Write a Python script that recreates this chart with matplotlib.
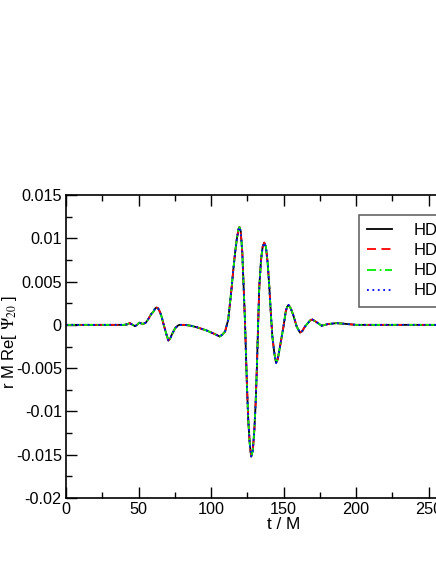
import matplotlib
matplotlib.use("Agg")
import matplotlib.pyplot as plt
from matplotlib.ticker import MultipleLocator, FixedLocator, FixedFormatter

plt.rcParams['font.family'] = ['Liberation Sans', 'DejaVu Sans']
plt.rcParams['mathtext.fontset'] = 'stix'

# time samples (t / M)
t = [0, 40, 42, 44, 46, 47.6, 49, 50.5, 53, 55, 56.5, 57.9, 59, 60.2, 61.5, 62.5,
     63.5, 64.8, 66, 67.1, 69, 70.6, 71.8, 72.9, 75.2, 77, 78.2, 82, 86, 90.1, 97,
     102.8, 106, 108, 109.7, 111.9, 113.1, 114.3, 115.4, 116.6, 117.7, 118.9,
     119.6, 120.5, 121.6, 122.5, 123.4, 124.1, 124.8, 125.7, 126.7, 127.7, 128.8,
     129.9, 130.8, 131.6, 132.5, 133.3, 134.5, 135.6, 136.7, 137.9, 139.1, 140.2,
     141.4, 142.3, 143.7, 144.9, 146, 147.6, 149.9, 151.5, 152.5, 153.5, 155,
     156.8, 159.1, 161.4, 163, 164.8, 168.3, 169.9, 172.9, 176.3, 180.9, 186.7,
     193.6, 200, 300]

# r M Re[Psi_20] for the four runs (curves overlap)
hd_a = [0, 0, 0.00005, 0.0002, 0.0000, -0.00015, 0.0000, 0.00025, 0.0001, 0.00025,
        0.0006, 0.0010, 0.0013, 0.0015, 0.0019, 0.0020, 0.0019, 0.0015, 0.0009,
        0.0002, -0.00096, -0.0018, -0.0016, -0.00116, -0.0004, -0.0001, 0.0, 0.0,
        -0.0001, -0.00027, -0.00065, -0.00108, -0.00135, -0.0011, -0.00077, 0.0006,
        0.0025, 0.0044, 0.0064, 0.0083, 0.0098, 0.0110, 0.0113, 0.0108, 0.0083,
        0.0044, 0.0006, -0.0033, -0.0071, -0.0110, -0.0137, -0.0152, -0.0146,
        -0.0121, -0.0090, -0.0052, 0.0, 0.0044, 0.0075, 0.0090, 0.0095, 0.0090,
        0.0071, 0.0044, 0.0010, -0.0013, -0.0033, -0.0044, -0.0040, -0.0025,
        -0.0003, 0.0015, 0.0021, 0.0023, 0.0019, 0.0011, -0.0002, -0.0009, -0.0007,
        -0.0002, 0.0005, 0.00062, 0.0003, -0.0001, 0.0001, 0.0002, 0.0001, 0.0, 0.0]
hd_b = list(hd_a)
hd_c = list(hd_a)
hd_d = list(hd_a)

labels = ["HD1", "HD2", "HD3", "HD4"]
x_ticks = [0, 50, 100, 150, 200, 250, 300]
y_ticks = [-0.02, -0.015, -0.01, -0.005, 0, 0.005, 0.01, 0.015]
y_tick_labels = ["-0.02", "-0.015", "-0.01", "-0.005", "0", "0.005", "0.01", "0.015"]

W, H = 436, 564
fig = plt.figure(figsize=(W / 100, H / 100), dpi=100)
left, right, top, bottom = 66, 66 + 435, 195, 498
ax = fig.add_axes([left / W, (H - bottom) / H, (right - left) / W, (bottom - top) / H])

ax.plot(t, hd_a, color='black', lw=1.3, linestyle='-', label=labels[0])
ax.plot(t, hd_b, color='red', lw=1.3, linestyle=(0, (5, 3)), label=labels[1])
ax.plot(t, hd_c, color='#00ee00', lw=1.3, linestyle=(0, (5, 2, 1, 2)), label=labels[2])
ax.plot(t, hd_d, color='blue', lw=1.3, linestyle=(0, (1, 2)), label=labels[3])

ax.set_xlim(0, 300)
ax.set_ylim(-0.02, 0.015)
ax.xaxis.set_major_locator(FixedLocator(x_ticks))
ax.xaxis.set_minor_locator(MultipleLocator(25))
ax.yaxis.set_major_locator(FixedLocator(y_ticks))
ax.yaxis.set_major_formatter(FixedFormatter(y_tick_labels))
ax.yaxis.set_minor_locator(MultipleLocator(0.0025))
ax.tick_params(which='both', direction='in', top=True, right=True, labelsize=11.7,
               width=1.0, pad=3)
ax.tick_params(which='major', length=8)
ax.tick_params(which='minor', length=4.5)
for s in ax.spines.values():
    s.set_linewidth(1.2)

ax.set_xlabel("t / M", fontsize=12.3, labelpad=0)
ax.set_ylabel(r"r M Re[ $\Psi_{20}$ ]", fontsize=12, va='center')
ax.yaxis.set_label_coords(9.5 / W, (H - 342) / H, transform=fig.transFigure)

leg = fig.legend(loc='upper left', bbox_to_anchor=(359 / W, (H - 215) / H),
                 bbox_transform=fig.transFigure, fontsize=12, frameon=True,
                 fancybox=False, shadow=False, handlelength=1.5, borderaxespad=0,
                 handletextpad=1.3, labelspacing=0.3, borderpad=0.5)
leg.get_frame().set_edgecolor('0.25')
leg.get_frame().set_linewidth(1.2)

fig.savefig("out.png", dpi=100)
